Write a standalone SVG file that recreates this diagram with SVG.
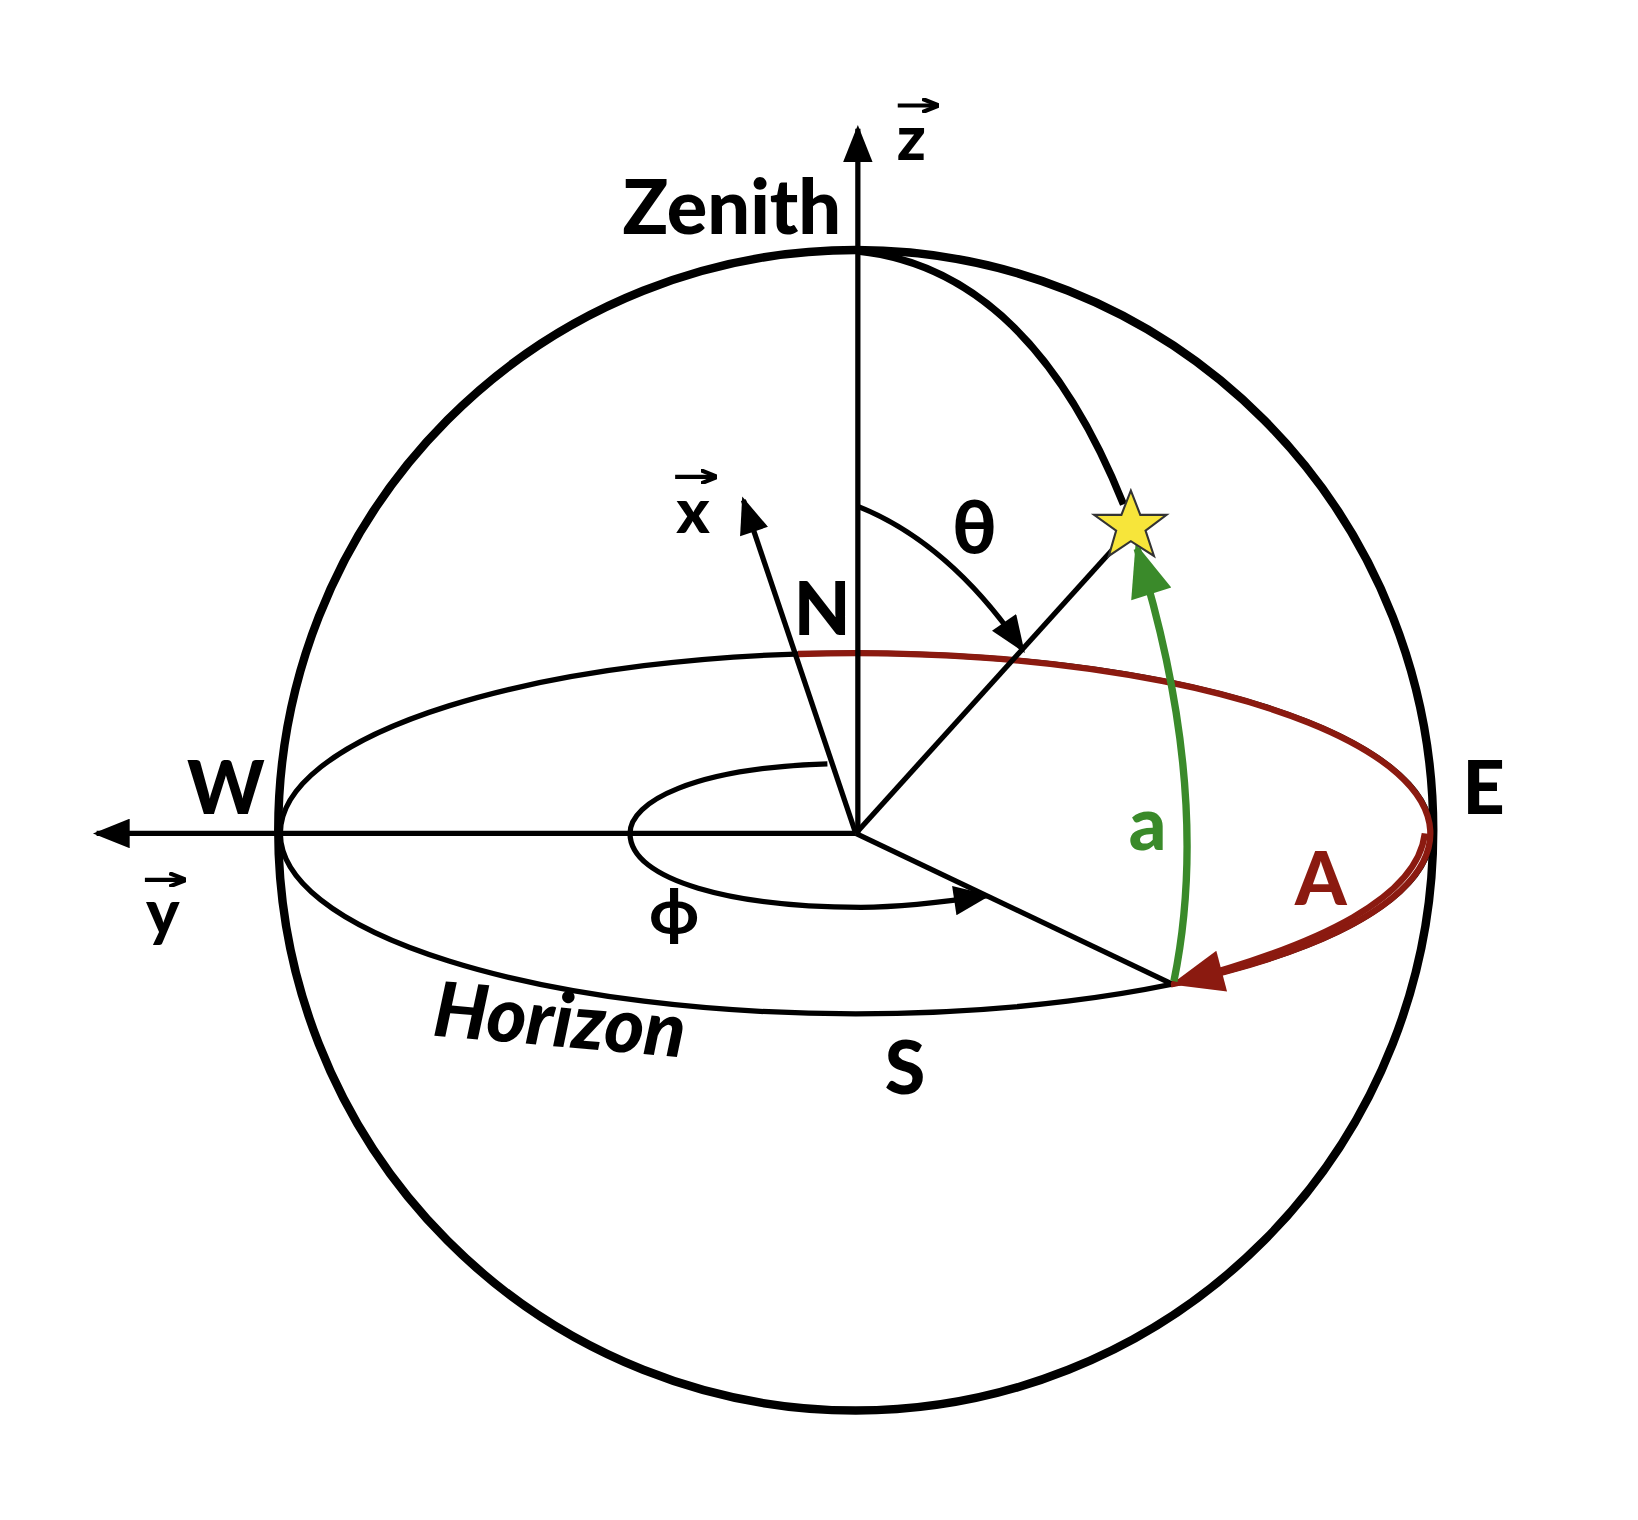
<svg xmlns="http://www.w3.org/2000/svg" width="1638" height="1520" viewBox="0 0 1638 1520">
<style>
.k{fill:none;stroke:#000;stroke-width:5}
.t{font-family:Lato,"Open Sans",sans-serif;font-weight:900;fill:#000}
</style>
<defs>
<marker id="ah" viewBox="0 0 10 8" refX="9" refY="4" markerWidth="36" markerHeight="28" orient="auto" markerUnits="userSpaceOnUse"><path d="M0,0 L10,4 L0,8z" fill="#000"/></marker>
<marker id="ar" viewBox="0 0 10 8" refX="9" refY="4" markerWidth="54" markerHeight="40" orient="auto" markerUnits="userSpaceOnUse"><path d="M0,0 L10,4 L0,8z" fill="#8b1a10"/></marker>
<marker id="ag" viewBox="0 0 10 8" refX="9" refY="4" markerWidth="52" markerHeight="40" orient="auto" markerUnits="userSpaceOnUse"><path d="M0,0 L10,4 L0,8z" fill="#3a8a2a"/></marker>
<marker id="vec" viewBox="0 0 10 8" refX="8" refY="4" markerWidth="16" markerHeight="14" orient="auto" markerUnits="userSpaceOnUse"><path d="M0,0 L10,4 L0,8" fill="none" stroke="#000" stroke-width="2.5"/></marker>
</defs>
<g transform="scale(1.05,1.055)">
<g id="sphere"><circle cx="815" cy="787" r="550" fill="none" stroke="#000" stroke-width="8"/></g>
<g id="horizon">
<ellipse class="k" cx="815" cy="790" rx="548" ry="171"/>
<path d="M760,619.9 A548,171 0 0 1 1115,933" fill="none" stroke="#8b1a10" stroke-width="6"/>
</g>
<g id="connectors">
<line class="k" x1="817" y1="790" x2="817" y2="122" marker-end="url(#ah)"/>
<line class="k" x1="815" y1="790" x2="92" y2="790" marker-end="url(#ah)"/>
<line class="k" x1="815" y1="790" x2="708" y2="474" marker-end="url(#ah)"/>
<line class="k" x1="815" y1="790" x2="1065" y2="515"/>
<line class="k" x1="815" y1="790" x2="1115" y2="932"/>
<path d="M817,238 Q980,255 1070,478" fill="none" stroke="#000" stroke-width="7"/>
<path class="k" d="M817,480 Q905,515 974,616" marker-end="url(#ah)"/>
<path class="k" d="M788,724 C660,728 600,760 600,790 C600,835 700,860 820,860 C860,860 900,855 940,849" marker-end="url(#ah)"/>
<path d="M1357,790 C1350,850 1260,895 1120,932" fill="none" stroke="#8b1a10" stroke-width="6" marker-end="url(#ar)"/>
<path d="M1118,930 Q1155,750 1083,520" fill="none" stroke="#3a8a2a" stroke-width="7" marker-end="url(#ag)"/>
</g>
<g id="star"><polygon points="1077,465 1086,488 1111,488 1091,503 1099,527 1077,513 1056,527 1063,503 1042,488 1068,488" fill="#f7e53a" stroke="#333" stroke-width="2"/></g>
<g id="labels">
<text class="t" x="697" y="222" font-size="72" text-anchor="middle">Zenith</text>
<text class="t" x="868" y="152" font-size="60" text-anchor="middle">z</text>
<line x1="855" y1="100" x2="891" y2="100" stroke="#000" stroke-width="4" marker-end="url(#vec)"/>
<text class="t" x="660" y="505" font-size="60" text-anchor="middle">x</text>
<line x1="643" y1="452" x2="680" y2="452" stroke="#000" stroke-width="4" marker-end="url(#vec)"/>
<text class="t" x="155" y="885" font-size="60" text-anchor="middle">y</text>
<line x1="138" y1="834" x2="174" y2="834" stroke="#000" stroke-width="4" marker-end="url(#vec)"/>
<text class="t" x="783" y="602" font-size="70" text-anchor="middle">N</text>
<text class="t" x="215" y="772" font-size="70" text-anchor="middle">W</text>
<text class="t" x="1413" y="772" font-size="70" text-anchor="middle">E</text>
<text class="t" x="862" y="1037" font-size="70" text-anchor="middle">S</text>
<text class="t" x="928" y="525" font-size="70" text-anchor="middle">θ</text>
<text class="t" x="642" y="885" font-size="60" text-anchor="middle">ϕ</text>
<text class="t" x="1093" y="806" font-size="70" text-anchor="middle" style="fill:#3a8a2a">a</text>
<text class="t" x="1258" y="858" font-size="70" text-anchor="middle" style="fill:#8b1a10">A</text>
<text class="t" x="533" y="992" font-size="72" text-anchor="middle" font-style="italic" transform="rotate(5 533 970)">Horizon</text>
</g>
</g>
</svg>
